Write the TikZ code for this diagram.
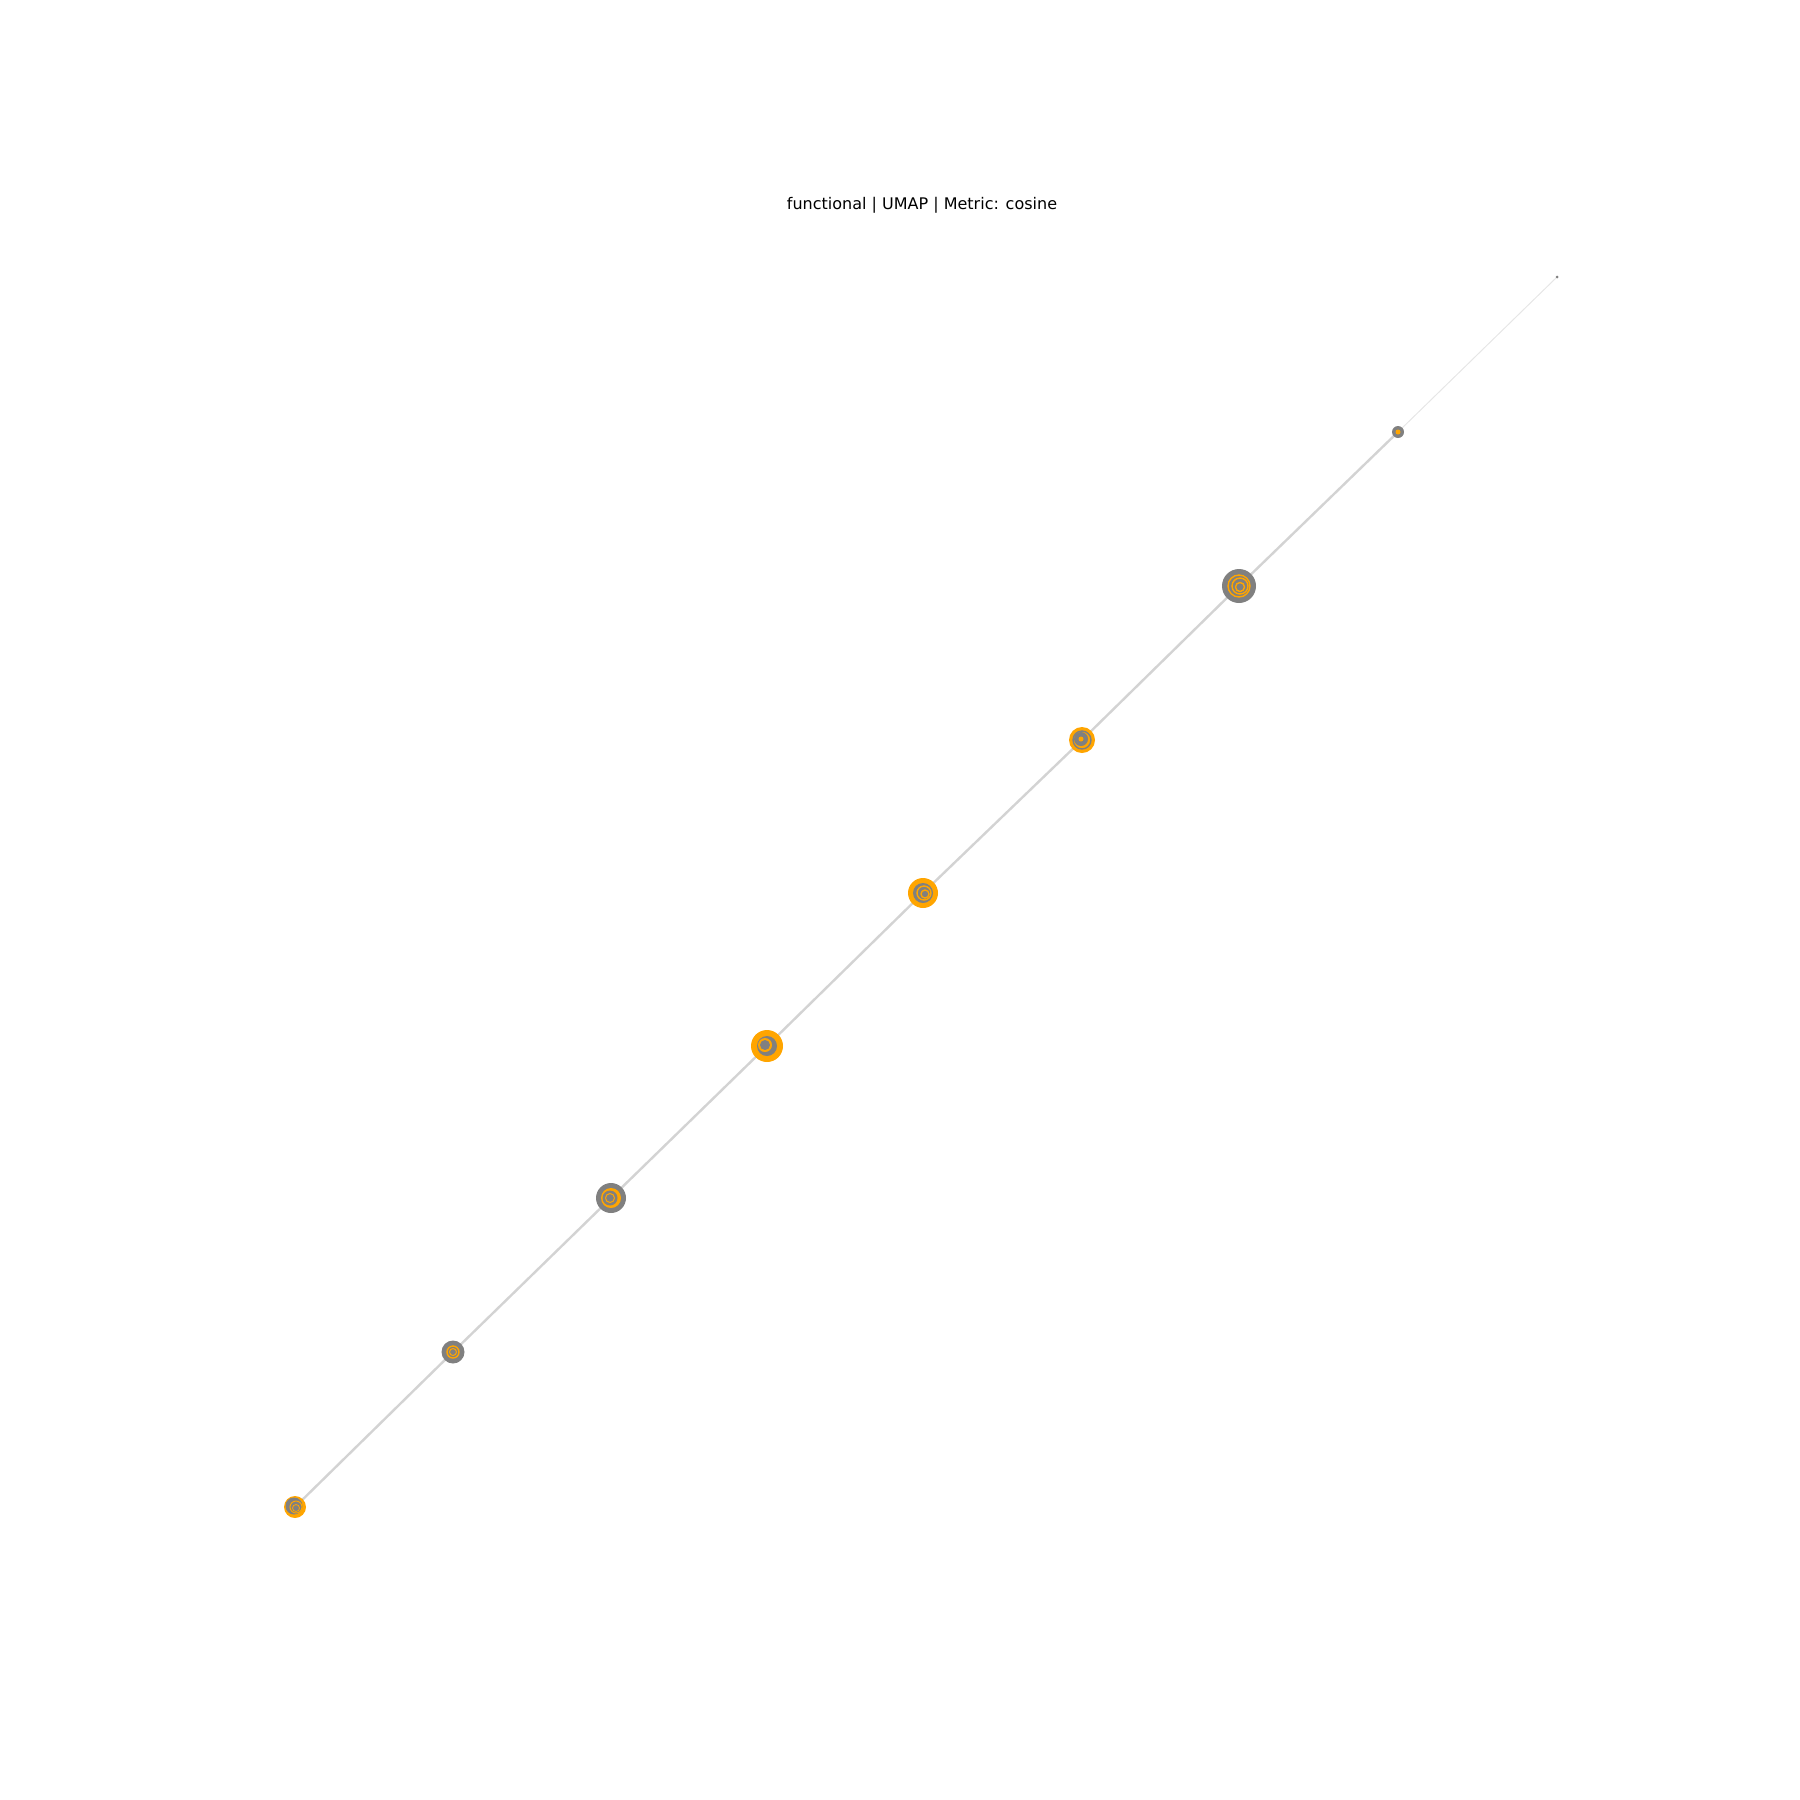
\documentclass[tikz,border=0pt]{standalone}
\usepackage{fontspec}
\setmainfont{DejaVu Sans}
\usetikzlibrary{backgrounds}
\definecolor{nodegray}{HTML}{808080}
\definecolor{nodeorange}{HTML}{FFA500}
\definecolor{edgegray}{HTML}{D3D3D3}
\definecolor{edgefaint}{HTML}{E6E6E6}
\tikzset{
  pt/.style={circle, inner sep=0pt, draw=none},
  gnode/.style={pt, fill=nodegray},
  onode/.style={pt, fill=nodeorange},
  edge/.style={draw=edgegray, line width=2.4pt},
  faint/.style={draw=edgefaint, line width=1pt},
  oring/.style={draw=nodeorange, line width=1.4pt},
  gring/.style={draw=nodegray, line width=1.4pt},
}
\begin{document}
\begin{tikzpicture}[x=1pt,y=-1pt]
\useasboundingbox (0,0) rectangle (1800,1800);
\node[font=\fontsize{16}{19}\selectfont] (title) at (922,205) {functional | UMAP | Metric: cosine};

\node[gnode, minimum size=3pt] (n0) at (1557,277) {};
\node[gnode, minimum size=12pt] (n1) at (1398,432) {};
\node[gnode, minimum size=34pt] (n2) at (1239,586) {};
\node[onode, minimum size=26pt] (n3) at (1082,740) {};
\node[onode, minimum size=30pt] (n4) at (923,893) {};
\node[onode, minimum size=32pt] (n5) at (767,1046) {};
\node[gnode, minimum size=30pt] (n6) at (611,1198) {};
\node[gnode, minimum size=23pt] (n7) at (453,1352) {};
\node[onode, minimum size=22pt] (n8) at (295,1507) {};

\begin{pgfonlayer}{background}
\draw[faint] (n0.center) -- (n1.center);
\draw[edge] (n1.center) -- (n2.center);
\draw[edge] (n2.center) -- (n3.center);
\draw[edge] (n3.center) -- (n4.center);
\draw[edge] (n4.center) -- (n5.center);
\draw[edge] (n5.center) -- (n6.center);
\draw[edge] (n6.center) -- (n7.center);
\draw[edge] (n7.center) -- (n8.center);
\end{pgfonlayer}

% inner details
\fill[nodeorange] (n1.center) circle (2.5);
\draw[oring] (n2.center) circle (11);
\draw[oring] ([xshift=1]n2.center) circle (8);
\draw[oring] ([xshift=1,yshift=-1]n2.center) circle (4.5);
\fill[nodegray] ([xshift=-1,yshift=1]n3.center) circle (7);
\draw[gring] (n3.center) circle (9);
\fill[nodeorange] ([xshift=-1,yshift=1]n3.center) circle (2.5);
\fill[nodegray] (n4.center) circle (10);
\draw[oring] ([xshift=1]n4.center) circle (7);
\draw[oring] ([xshift=2,yshift=-1]n4.center) circle (4);
\fill[nodegray] (n5.center) circle (10);
\fill[nodeorange] ([xshift=-2,yshift=1]n5.center) circle (7);
\fill[nodegray] ([xshift=-2,yshift=1]n5.center) circle (5);
\fill[nodeorange] (n6.center) circle (10);
\fill[nodegray] ([xshift=-1]n6.center) circle (7.5);
\draw[oring,line width=1pt] ([xshift=-1]n6.center) circle (4.5);
\draw[oring] (n7.center) circle (6);
\draw[oring, line width=1pt] (n7.center) circle (3.5);
\fill[nodegray] ([xshift=-1,yshift=1]n8.center) circle (8.5);
\draw[oring, line width=1pt] ([xshift=1]n8.center) circle (6);
\draw[oring, line width=0.8pt] ([xshift=1,yshift=-1]n8.center) circle (3.5);
\end{tikzpicture}
\end{document}
